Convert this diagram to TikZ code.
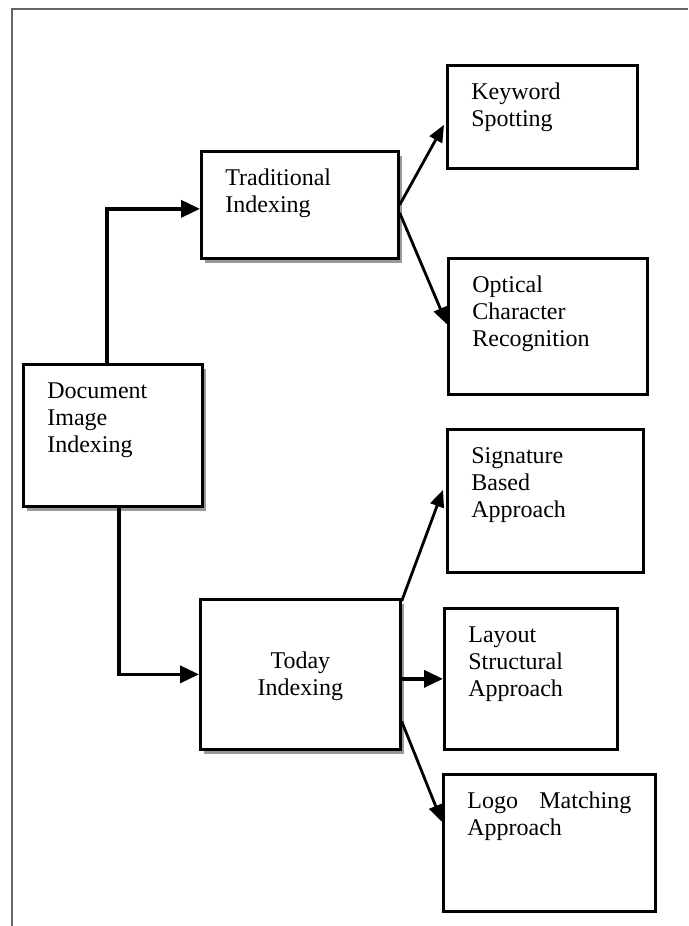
\documentclass[tikz,border=0pt]{standalone}
\usepackage{fontspec}
\setmainfont{Liberation Serif}
\usetikzlibrary{arrows.meta,shadows}

\begin{document}
\begin{tikzpicture}[
	x=1pt, y=-1pt,
	blk/.style={
		draw, line width=2.7pt,
		fill=white,
		anchor=north west,
		inner xsep=24pt, inner ysep=0pt,
		align=left,
		font=\fontsize{24}{27}\selectfont,
		text height=34pt
	},
	shade/.style={drop shadow={shadow xshift=4pt, shadow yshift=-5pt, fill=black, opacity=0.4}},
	link/.style={line width=3.6pt, -{Triangle[length=19pt,width=17pt]}},
	slant/.style={line width=2.8pt, -{Triangle[length=17pt,width=14pt]}}
]
\useasboundingbox (0,0) rectangle (688,926);
\draw[black!60, line width=2.8pt] (12,926) -- (12,9) -- (688,9);

\node[blk, shade, text width=131pt, text depth=108pt] (doc) at (22,363) {Document\\Image\\Indexing};
\node[blk, shade, text width=149pt, text depth=73pt] (trad) at (200,150) {Traditional\\Indexing};
\node[blk, shade, align=center, text width=152pt, text height=69pt, text depth=81pt] (today) at (199,598) {Today\\Indexing};

\node[blk, text width=142pt, text depth=69pt] (kw) at (446,64) {Keyword\\Spotting};
\node[blk, text width=151pt, text depth=102pt] (ocr) at (447,257) {Optical\\Character\\Recognition};
\node[blk, text width=148pt, text depth=109pt] (sig) at (446,428) {Signature\\Based\\Approach};
\node[blk, text width=125pt, text depth=107pt] (lay) at (443,607) {Layout\\Structural\\Approach};
\node[blk, text width=164pt, text depth=103pt] (logo) at (442,773) {Logo\hfill Matching\\Approach};

\draw[link] ([xshift=-6pt]doc.north) |- ([yshift=-4pt]trad.west);
\draw[link] ([xshift=6pt]doc.south) |- (today.west);

\draw[slant] (trad.east) -- ([xshift=-2pt,yshift=-8pt]kw.west);
\draw[slant] ([yshift=-8pt]trad.east) -- ([yshift=2pt]ocr.west);

\draw[slant] ([yshift=-3pt]today.north east) -- ([xshift=-3pt,yshift=11pt]sig.west);
\draw[link] (today.east |- lay.west) -- (lay.west);
\draw[slant] ([yshift=-47pt]today.east) -- ([yshift=21pt]logo.west);
\end{tikzpicture}
\end{document}
